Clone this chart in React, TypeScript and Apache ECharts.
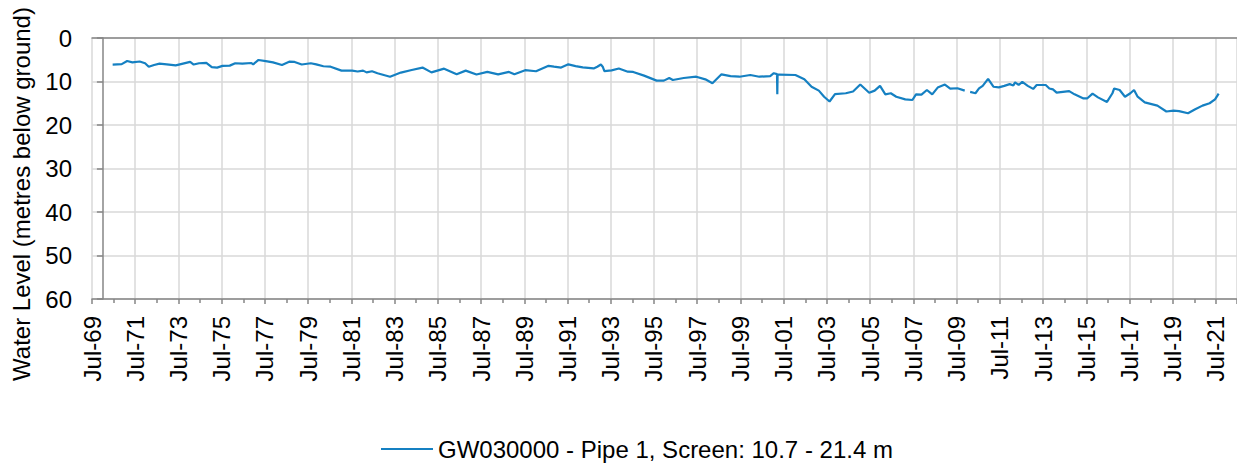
import React, { useEffect, useRef } from 'react';
import * as echarts from 'echarts';

const SERIES_NAME = 'GW030000 - Pipe 1, Screen: 10.7 - 21.4 m';
const Y_TITLE = 'Water Level (metres below ground)';
const MONTH_NAMES = ['Jan', 'Feb', 'Mar', 'Apr', 'May', 'Jun', 'Jul', 'Aug', 'Sep', 'Oct', 'Nov', 'Dec'];
const X_START = '1969-07-01';
const X_END = '2022-06-21';
const X_STEP_DAYS = 730.5; // two-year label step
const Y_MIN = 0;
const Y_MAX = 60;
const Y_STEP = 10;

const DATES = [
  '1970-06', '1970-11', '1971-02', '1971-05', '1971-09', '1971-12', '1972-02', '1972-05', '1972-08', '1972-12',
  '1973-05', '1973-09', '1974-01', '1974-03', '1974-06', '1974-10', '1975-01', '1975-04', '1975-07', '1975-11',
  '1976-02', '1976-06', '1976-11', '1976-12', '1977-03', '1977-07', '1977-11', '1978-04', '1978-08', '1978-11',
  '1979-03', '1979-08', '1979-11', '1980-03', '1980-07',
  '1981-01', '1981-07', '1981-10', '1982-01', '1982-03', '1982-06', '1982-09', '1983-04', '1983-10', '1984-04',
  '1984-10', '1985-03', '1985-10', '1986-05', '1986-10', '1987-04', '1987-10', '1988-04', '1988-10', '1989-01',
  '1989-07', '1990-01', '1990-08', '1990-11',
  '1991-03', '1991-07', '1991-11', '1992-03', '1992-09', '1992-11', '1993-01', '1993-02', '1993-03', '1993-07',
  '1993-11', '1994-04', '1994-07', '1995-01', '1995-08', '1995-12', '1996-03', '1996-05', '1996-11', '1997-06',
  '1997-11', '1998-03', '1998-08', '1999-01', '1999-06', '1999-12', '2000-05', '2000-11', '2001-01',
  '2001-03-10', '2001-03-15', '2001-03-20',
  '2001-04', '2002-01', '2002-06', '2002-10', '2003-02', '2003-05', '2003-08', '2003-11', '2004-05', '2004-09',
  '2005-01', '2005-06', '2005-09', '2005-12', '2006-03', '2006-06', '2006-09', '2007-02', '2007-06', '2007-08',
  '2007-11', '2008-02', '2008-05', '2008-08', '2008-12', '2009-03', '2009-07', '2009-11', '2010-01', '2010-02',
  '2010-05', '2010-07', '2010-09', '2010-12', '2011-03', '2011-06', '2011-09',
  '2011-12', '2012-02', '2012-03', '2012-05', '2012-07', '2012-10', '2013-01', '2013-03', '2013-08', '2013-10',
  '2013-12', '2014-02', '2014-09', '2014-12', '2015-05', '2015-07', '2015-10', '2016-01', '2016-06', '2016-09',
  '2016-10', '2017-01', '2017-04', '2017-07', '2017-09', '2017-11', '2018-03', '2018-10', '2019-03', '2019-07',
  '2019-10', '2020-03', '2020-07', '2020-11', '2021-03', '2021-06', '2021-08',
];

const LEVELS = [
  6.1, 6.0, 5.3, 5.6, 5.4, 5.8, 6.6, 6.2, 5.9, 6.05,
  6.3, 5.9, 5.5, 6.1, 5.8, 5.7, 6.7, 6.8, 6.4, 6.35,
  5.8, 5.9, 5.75, 6.05, 5.05, 5.3, 5.6, 6.2, 5.45, 5.5,
  6.1, 5.8, 6.05, 6.5, 6.6,
  7.5, 7.5, 7.7, 7.5, 7.9, 7.65, 8.1, 8.9, 7.95, 7.35,
  6.8, 7.9, 7.05, 8.35, 7.5, 8.4, 7.8, 8.35, 7.8, 8.35,
  7.4, 7.65, 6.4, 6.6,
  6.8, 6.05, 6.45, 6.75, 7.0, 6.6, 6.1, 6.6, 7.6, 7.45,
  7.0, 7.75, 7.8, 8.65, 9.8, 9.8, 9.2, 9.65, 9.2, 8.9,
  9.5, 10.4, 8.35, 8.75, 8.9, 8.5, 8.9, 8.75, 8.1,
  8.3, 12.9, 8.4,
  8.4, 8.5, 9.5, 11.2, 12.1, 13.5, 14.6, 12.9, 12.7, 12.3,
  10.7, 12.6, 12.1, 11.0, 12.95, 12.7, 13.5, 14.1, 14.25, 12.95,
  13.0, 11.95, 12.95, 11.4, 10.7, 11.65, 11.55, 12.1, null, 12.4,
  12.7, 11.6, 11.0, 9.4, 11.2, 11.35, 11.0,
  10.6, 10.9, 10.2, 10.8, 10.1, 11.0, 11.7, 10.8, 10.8, 11.6,
  11.8, 12.55, 12.2, 12.95, 13.9, 13.9, 12.8, 13.65, 14.7, 12.7,
  11.6, 11.95, 13.5, 12.7, 11.95, 13.5, 14.8, 15.55, 16.9, 16.7,
  16.8, 17.3, 16.4, 15.55, 15.0, 14.1, 12.8,
];

const toTime = (s: string): number => {
  const [y, m, d] = s.split('-').map(Number);
  return Date.UTC(y, m - 1, d || 15);
};

const FONT = "'Liberation Sans', Arial, sans-serif";
const AXIS_COLOR = '#868686';
const GRID_COLOR = '#d9d9d9';
const LINE_COLOR = '#1580c2';

export default function App() {
  const ref = useRef<HTMLDivElement>(null);

  useEffect(() => {
    if (!ref.current) return;
    const chart = echarts.init(ref.current, undefined, { renderer: 'svg' });
    const xMin = toTime(X_START);
    const xMax = toTime(X_END);
    const data = DATES.map((d, i) => [toTime(d), LEVELS[i]]);

    chart.setOption({
      animation: false,
      backgroundColor: '#ffffff',
      textStyle: { fontFamily: FONT },
      grid: { left: 92, top: 38, right: 0, bottom: 164, containLabel: false },
      xAxis: [
        {
          type: 'value',
          min: xMin,
          max: xMax,
          interval: X_STEP_DAYS * 86400000,
          position: 'bottom',
          axisLine: { show: true, onZero: false, lineStyle: { color: AXIS_COLOR, width: 1.5 } },
          axisTick: { show: true, length: 5, lineStyle: { color: AXIS_COLOR, width: 1.5 } },
          minorTick: { show: true, splitNumber: 2, length: 4, lineStyle: { color: AXIS_COLOR, width: 1.5 } },
          splitLine: { show: true, lineStyle: { color: GRID_COLOR, width: 1.5 } },
          axisLabel: {
            rotate: 90,
            margin: 17,
            fontSize: 24,
            color: '#000',
            fontFamily: FONT,
            showMaxLabel: false,
            formatter: (v: number) => {
              const d = new Date(v);
              return MONTH_NAMES[d.getUTCMonth()] + '-' + String(d.getUTCFullYear() % 100).padStart(2, '0');
            },
          },
        },
        {
          type: 'value',
          min: xMin,
          max: xMax,
          position: 'top',
          axisLine: { show: true, onZero: false, lineStyle: { color: AXIS_COLOR, width: 1.5 } },
          axisTick: { show: false },
          axisLabel: { show: false },
          splitLine: { show: false },
        },
      ],
      yAxis: {
        type: 'value',
        inverse: true,
        min: Y_MIN,
        max: Y_MAX,
        interval: Y_STEP,
        axisLine: { show: true, lineStyle: { color: AXIS_COLOR, width: 1.5 } },
        axisTick: { show: true, length: 6, lineStyle: { color: AXIS_COLOR, width: 1.5 } },
        splitLine: { show: true, lineStyle: { color: GRID_COLOR, width: 1.5 } },
        axisLabel: { fontSize: 24, color: '#000', margin: 20, fontFamily: FONT },
      },
      legend: {
        left: 376,
        top: 432,
        itemWidth: 52,
        itemHeight: 2,
        data: [{ name: SERIES_NAME, icon: 'rect' }],
        textStyle: { fontSize: 24, color: '#000', fontFamily: FONT },
      },
      graphic: [
        {
          type: 'text',
          x: 21,
          y: 194,
          rotation: Math.PI / 2,
          style: {
            text: Y_TITLE,
            font: `24px ${FONT}`,
            fill: '#000',
            textAlign: 'center',
            textVerticalAlign: 'middle',
          },
        },
      ],
      series: [
        {
          name: SERIES_NAME,
          type: 'line',
          xAxisIndex: 0,
          data,
          showSymbol: false,
          connectNulls: false,
          color: LINE_COLOR,
          lineStyle: { color: LINE_COLOR, width: 2.2 },
        },
      ],
    });

    return () => chart.dispose();
  }, []);

  return (
    <div
      ref={ref}
      style={{ position: 'absolute', left: 0, top: 0, width: 1237, height: 463 }}
    />
  );
}
